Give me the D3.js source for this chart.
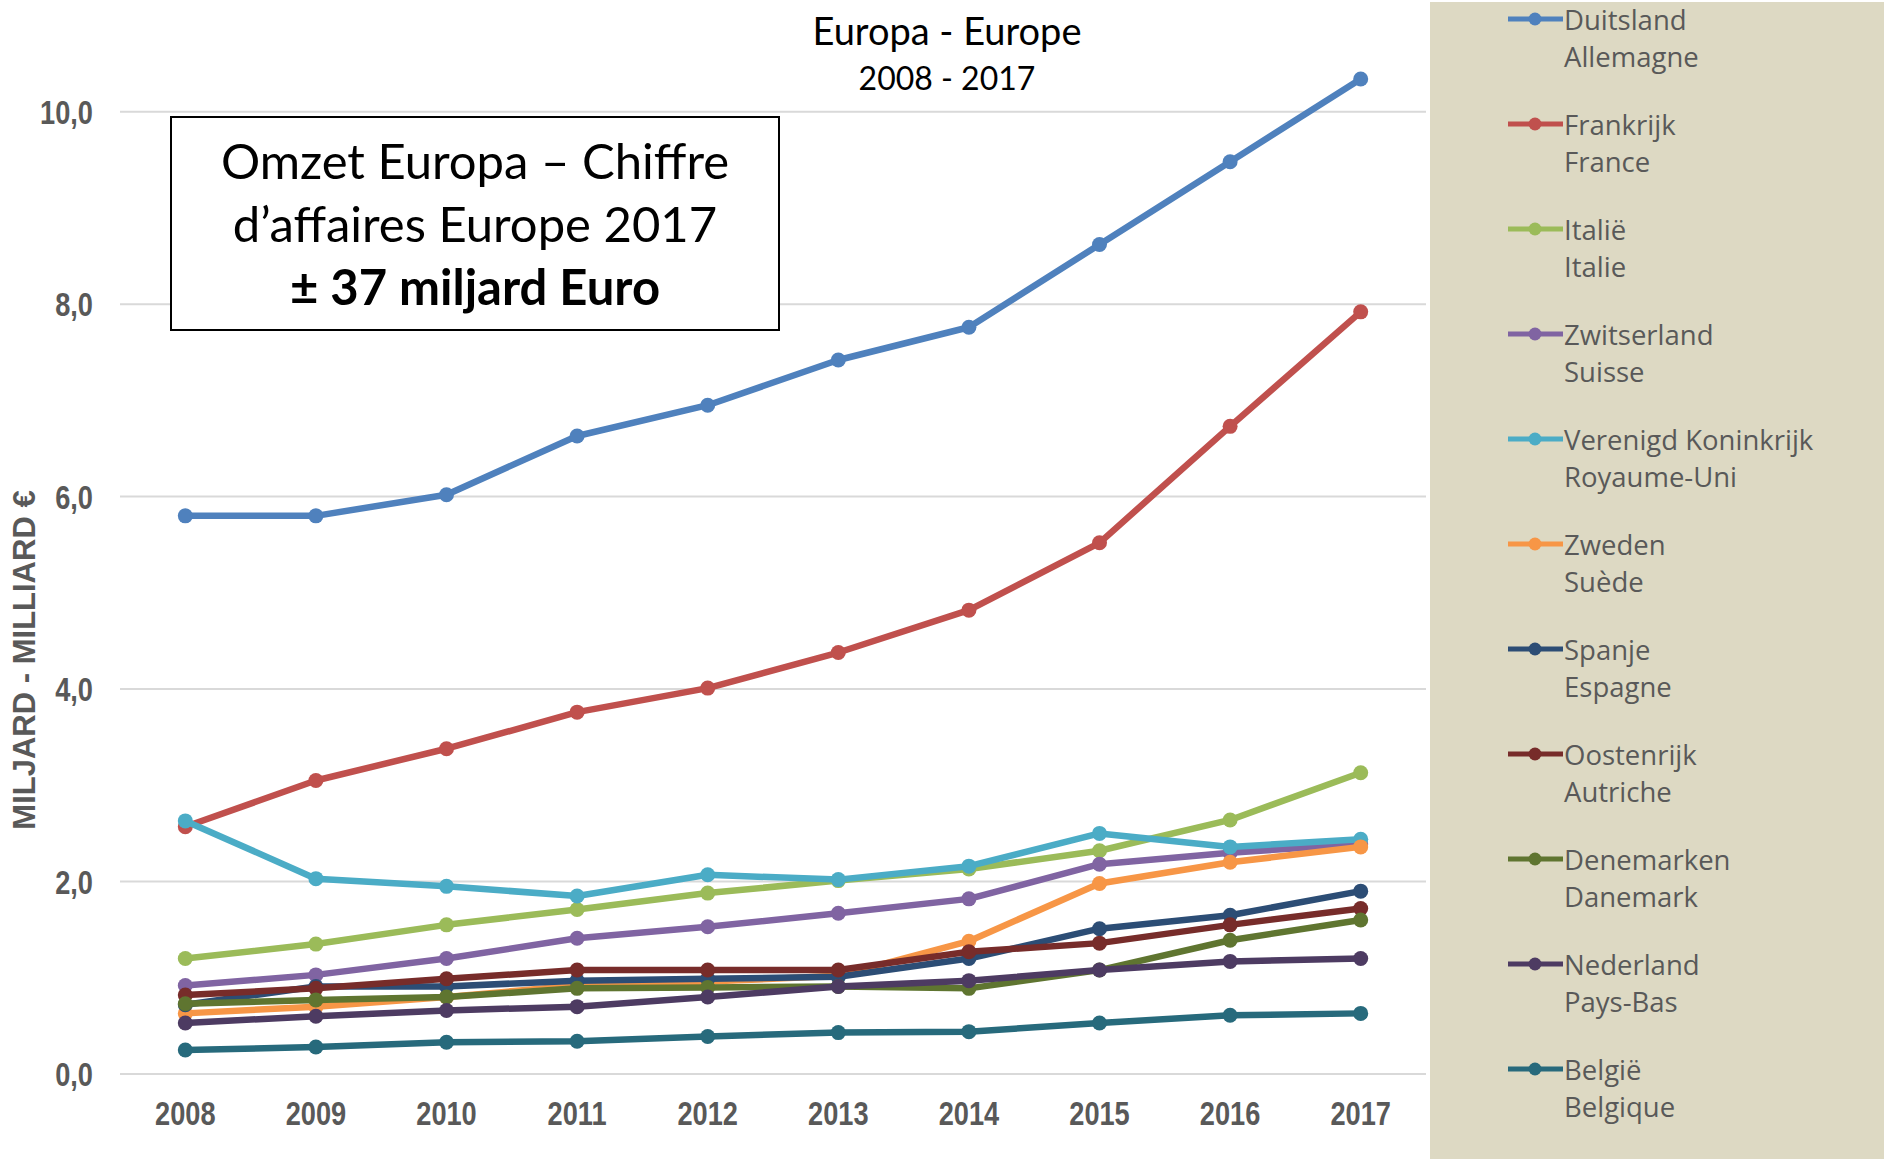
<html>
<head>
<meta charset="utf-8">
<script src="https://d3js.org/d3.v7.min.js"></script>
<style>
  body { margin: 0; background: #ffffff; }
  .tick-label { font-family: "Liberation Sans Narrow", "Liberation Sans", sans-serif; font-weight: bold; fill: #595959; }
  .legend-text { font-family: "Open Sans", sans-serif; fill: #595959; }
  .title { font-family: Lato, sans-serif; fill: #000; }
</style>
</head>
<body>
<div id="chart"></div>
<script>
// years on the category axis
var years = ["2008", "2009", "2010", "2011", "2012", "2013", "2014", "2015", "2016", "2017"];

// turnover in billion euro
var duitsland          = [5.80, 5.80, 6.02, 6.63, 6.95, 7.42, 7.76, 8.62, 9.48, 10.34];
var frankrijk          = [2.57, 3.05, 3.38, 3.76, 4.01, 4.38, 4.82, 5.52, 6.73, 7.92];
var italie             = [1.20, 1.35, 1.55, 1.71, 1.88, 2.01, 2.13, 2.32, 2.64, 3.13];
var zwitserland        = [0.92, 1.03, 1.20, 1.41, 1.53, 1.67, 1.82, 2.18, 2.30, 2.39];
var verenigdKoninkrijk = [2.63, 2.03, 1.95, 1.85, 2.07, 2.02, 2.16, 2.50, 2.36, 2.44];
var zweden             = [0.63, 0.70, 0.80, 0.92, 0.96, 1.02, 1.38, 1.98, 2.20, 2.36];
var spanje             = [0.72, 0.91, 0.91, 0.97, 0.99, 1.01, 1.20, 1.51, 1.65, 1.90];
var oostenrijk         = [0.82, 0.89, 0.99, 1.08, 1.08, 1.08, 1.27, 1.36, 1.55, 1.72];
var denemarken         = [0.73, 0.77, 0.80, 0.89, 0.90, 0.91, 0.89, 1.08, 1.39, 1.60];
var nederland          = [0.53, 0.60, 0.66, 0.70, 0.80, 0.91, 0.97, 1.08, 1.17, 1.20];
var belgie             = [0.25, 0.28, 0.33, 0.34, 0.39, 0.43, 0.44, 0.53, 0.61, 0.63];

var namesNl = ["Duitsland", "Frankrijk", "Italië", "Zwitserland", "Verenigd Koninkrijk", "Zweden",
               "Spanje", "Oostenrijk", "Denemarken", "Nederland", "België"];
var namesFr = ["Allemagne", "France", "Italie", "Suisse", "Royaume-Uni", "Suède",
               "Espagne", "Autriche", "Danemark", "Pays-Bas", "Belgique"];
var colors = ["#4F81BD", "#C0504D", "#9BBB59", "#8064A2", "#4BACC6", "#F79646",
              "#2C4D75", "#772C2A", "#5F7530", "#4D3B62", "#276A7C"];
var yTicks = [0, 2, 4, 6, 8, 10];

var series = [duitsland, frankrijk, italie, zwitserland, verenigdKoninkrijk, zweden,
              spanje, oostenrijk, denemarken, nederland, belgie].map(function(vals, i) {
  return { nl: namesNl[i], fr: namesFr[i], color: colors[i], values: vals };
});

var W = 1884, H = 1161;
var plot = { left: 120, right: 1426, top: 111.7, bottom: 1074 };

var svg = d3.select("#chart").append("svg")
  .attr("width", W)
  .attr("height", H);

svg.append("rect").attr("width", W).attr("height", H).attr("fill", "#fff");

var x = d3.scalePoint()
  .domain(years)
  .range([plot.left, plot.right])
  .padding(0.5);

var y = d3.scaleLinear()
  .domain([0, 10])
  .range([plot.bottom, plot.top]);

// gridlines
svg.append("g").selectAll("line")
  .data(yTicks)
  .enter().append("line")
    .attr("x1", plot.left)
    .attr("x2", plot.right)
    .attr("y1", function(d) { return y(d); })
    .attr("y2", function(d) { return y(d); })
    .attr("stroke", "#D9D9D9")
    .attr("stroke-width", 2);

// y tick labels (squeezed a bit, the original font is narrow)
var fmt = d3.format(".1f");
svg.append("g").selectAll("text")
  .data(yTicks)
  .enter().append("text")
    .attr("class", "tick-label")
    .attr("transform", function(d) { return "translate(93," + y(d) + ") scale(0.8,1)"; })
    .attr("dy", "0.36em")
    .attr("text-anchor", "end")
    .style("font-size", "34px")
    .text(function(d) { return fmt(d).replace(".", ","); });

// x tick labels
svg.append("g").selectAll("text")
  .data(years)
  .enter().append("text")
    .attr("class", "tick-label")
    .attr("transform", function(d) { return "translate(" + x(d) + ",1125) scale(0.8,1)"; })
    .attr("text-anchor", "middle")
    .style("font-size", "34px")
    .text(function(d) { return d; });

// y axis title
svg.append("text")
  .attr("class", "tick-label")
  .attr("transform", "translate(35,660) rotate(-90)")
  .attr("text-anchor", "middle")
  .style("font-size", "31px")
  .text("MILJARD  - MILLIARD €");

// lines + markers
var line = d3.line()
  .x(function(d, i) { return x(years[i]); })
  .y(function(d) { return y(d); });

var groups = svg.append("g").selectAll("g")
  .data(series)
  .enter().append("g");

groups.append("path")
  .attr("d", function(d) { return line(d.values); })
  .attr("fill", "none")
  .attr("stroke", function(d) { return d.color; })
  .attr("stroke-width", 6.5)
  .attr("stroke-linejoin", "round");

groups.selectAll("circle")
  .data(function(d) { return d.values.map(function(v, i) { return { v: v, i: i, color: d.color }; }); })
  .enter().append("circle")
    .attr("cx", function(d) { return x(years[d.i]); })
    .attr("cy", function(d) { return y(d.v); })
    .attr("r", 7.5)
    .attr("fill", function(d) { return d.color; });

// chart title
svg.append("text")
  .attr("class", "title")
  .attr("x", 947).attr("y", 45)
  .attr("text-anchor", "middle")
  .style("font-size", "38px")
  .text("Europa - Europe");
svg.append("text")
  .attr("class", "title")
  .attr("x", 947).attr("y", 90)
  .attr("text-anchor", "middle")
  .style("font-size", "32px")
  .text("2008 - 2017");

// annotation box
svg.append("rect")
  .attr("x", 171).attr("y", 117)
  .attr("width", 608).attr("height", 213)
  .attr("fill", "#fff")
  .attr("stroke", "#000")
  .attr("stroke-width", 2);

var boxLines = ["Omzet Europa – Chiffre", "d’affaires Europe 2017", "± 37 miljard Euro"];
svg.append("g").selectAll("text")
  .data(boxLines)
  .enter().append("text")
    .attr("class", "title")
    .attr("x", 475)
    .attr("y", function(d, i) { return 179 + i * 63; })
    .attr("text-anchor", "middle")
    .style("font-size", "49px")
    .style("font-weight", function(d, i) { return i === 2 ? "bold" : "normal"; })
    .text(function(d) { return d; });

// legend panel
svg.append("rect")
  .attr("x", 1430).attr("y", 2)
  .attr("width", W - 1430).attr("height", H - 4)
  .attr("fill", "#DDD9C3");

var legend = svg.append("g").selectAll("g")
  .data(series)
  .enter().append("g")
    .attr("transform", function(d, i) { return "translate(0," + (19 + i * 105) + ")"; });

legend.append("line")
  .attr("x1", 1508).attr("x2", 1563)
  .attr("stroke", function(d) { return d.color; })
  .attr("stroke-width", 5);
legend.append("circle")
  .attr("cx", 1535).attr("r", 6.5)
  .attr("fill", function(d) { return d.color; });
legend.append("text")
  .attr("class", "legend-text")
  .attr("x", 1564).attr("y", 11)
  .style("font-size", "27.5px")
  .text(function(d) { return d.nl; });
legend.append("text")
  .attr("class", "legend-text")
  .attr("x", 1564).attr("y", 48)
  .style("font-size", "27.5px")
  .text(function(d) { return d.fr; });
</script>
</body>
</html>
